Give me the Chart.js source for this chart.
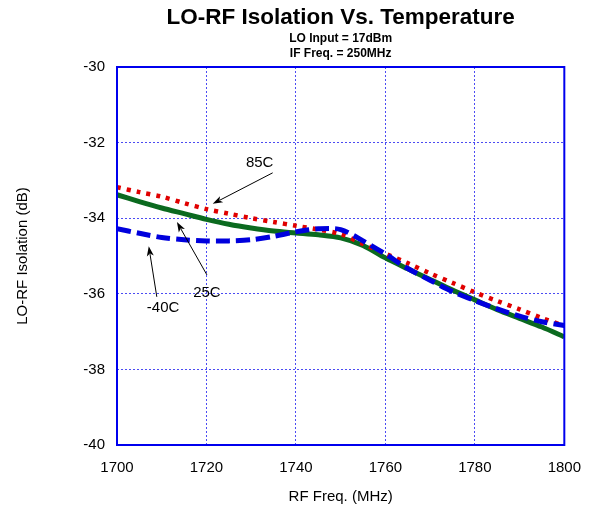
<!DOCTYPE html>
<html>
<head>
<meta charset="utf-8">
<script src="https://cdn.jsdelivr.net/npm/chart.js@4/dist/chart.umd.min.js"></script>
<style>
  html, body { margin: 0; padding: 0; background: #fff; }
  #box { width: 595px; height: 515px; }
</style>
</head>
<body>
<div id="box"><canvas id="iso-chart" width="595" height="515"></canvas></div>
<script>
// RF frequency points (MHz)
var freqs = [1700, 1705, 1710, 1715, 1720, 1725, 1730, 1735, 1740, 1745, 1750,
             1755, 1760, 1765, 1770, 1775, 1780, 1785, 1790, 1795, 1800];

// LO-RF isolation (dB) per temperature
var iso85C = [-33.18, -33.31, -33.43, -33.60, -33.76, -33.88, -34.00, -34.10, -34.20, -34.30, -34.42,
              -34.68, -34.94, -35.19, -35.46, -35.71, -35.96, -36.19, -36.41, -36.64, -36.85];
var iso25C = [-33.38, -33.56, -33.73, -33.88, -34.03, -34.16, -34.26, -34.34, -34.39, -34.44, -34.52,
              -34.72, -35.05, -35.34, -35.62, -35.90, -36.16, -36.42, -36.65, -36.88, -37.14];
var isoM40C = [-34.28, -34.40, -34.51, -34.57, -34.60, -34.60, -34.57, -34.48, -34.36, -34.28, -34.30,
               -34.60, -34.95, -35.33, -35.64, -35.94, -36.18, -36.40, -36.59, -36.74, -36.84];

var xTicks = [1700, 1720, 1740, 1760, 1780, 1800];
var yTicks = [-40, -38, -36, -34, -32, -30];

var titleText = 'LO-RF Isolation Vs. Temperature';
var subTitles = ['LO Input = 17dBm', 'IF Freq. = 250MHz'];

// callouts: label position, arrow tail, arrow head (data coordinates)
var callouts = [
    { text: '85C', at: [1731.9, -32.54], from: [1734.8, -32.80], to: [1721.4, -33.62] },
    { text: '25C', at: [1720.1, -35.98], from: [1720.1, -35.50], to: [1713.4, -34.10] },
    { text: '-40C', at: [1710.3, -36.38], from: [1708.9, -36.08], to: [1707.1, -34.74] }
];

var fontFam = 'Arial, "Liberation Sans", sans-serif';

function pts(vals) {
    return freqs.map(function(f, i) { return { x: f, y: vals[i] }; });
}

var decor = {
    id: 'decor',
    beforeDraw: function(chart) {
        var c = chart.ctx;
        c.save();
        c.fillStyle = '#fff';
        c.fillRect(0, 0, chart.width, chart.height);
        c.restore();
    },
    afterDraw: function(chart) {
        var c = chart.ctx;
        var a = chart.chartArea;
        var xs = chart.scales.x, ys = chart.scales.y;
        c.save();
        // frame
        c.strokeStyle = '#0000ee';
        c.lineWidth = 2;
        c.setLineDash([]);
        c.strokeRect(a.left, a.top, a.right - a.left, a.bottom - a.top);

        // titles
        var cx = (a.left + a.right) / 2;
        c.fillStyle = '#000';
        c.textAlign = 'center';
        c.textBaseline = 'middle';
        c.font = 'bold 22.5px ' + fontFam;
        c.fillText(titleText, cx, 18);
        c.font = 'bold 12px ' + fontFam;
        c.fillText(subTitles[0], cx, 39);
        c.fillText(subTitles[1], cx, 54);

        // callouts
        c.font = '15px ' + fontFam;
        c.strokeStyle = '#000';
        c.lineWidth = 1;
        callouts.forEach(function(o) {
            c.fillText(o.text, xs.getPixelForValue(o.at[0]), ys.getPixelForValue(o.at[1]));
            var x1 = xs.getPixelForValue(o.from[0]), y1 = ys.getPixelForValue(o.from[1]);
            var x2 = xs.getPixelForValue(o.to[0]), y2 = ys.getPixelForValue(o.to[1]);
            var ang = Math.atan2(y2 - y1, x2 - x1);
            var hl = 10, hw = 3.5;
            c.beginPath();
            c.moveTo(x1, y1);
            c.lineTo(x2 - Math.cos(ang) * hl * 0.8, y2 - Math.sin(ang) * hl * 0.8);
            c.stroke();
            c.beginPath();
            c.moveTo(x2, y2);
            c.lineTo(x2 - Math.cos(ang) * hl - Math.sin(ang) * hw, y2 - Math.sin(ang) * hl + Math.cos(ang) * hw);
            c.lineTo(x2 - Math.cos(ang) * hl * 0.75, y2 - Math.sin(ang) * hl * 0.75);
            c.lineTo(x2 - Math.cos(ang) * hl + Math.sin(ang) * hw, y2 - Math.sin(ang) * hl - Math.cos(ang) * hw);
            c.closePath();
            c.fillStyle = '#000';
            c.fill();
        });
        c.restore();
    }
};

var ctx = document.getElementById('iso-chart').getContext('2d');
var isoChart = new Chart(ctx, {
    type: 'line',
    data: {
        datasets: [
            {
                label: '-40C',
                data: pts(isoM40C),
                borderColor: '#0000dd',
                borderWidth: 5,
                borderDash: [14, 6],
                pointRadius: 0,
                tension: 0.3
            },
            {
                label: '85C',
                data: pts(iso85C),
                borderColor: '#e00000',
                borderWidth: 4.5,
                borderDash: [4, 6],
                pointRadius: 0,
                tension: 0.3
            },
            {
                label: '25C',
                data: pts(iso25C),
                borderColor: '#0b6a1f',
                borderWidth: 5,
                pointRadius: 0,
                tension: 0.3
            }
        ]
    },
    options: {
        responsive: false,
        animation: false,
        events: [],
        layout: { padding: { left: 0, right: 30, top: 67, bottom: 0 } },
        plugins: {
            legend: { display: false },
            title: { display: false },
            tooltip: { enabled: false }
        },
        scales: {
            x: {
                type: 'linear',
                min: 1700,
                max: 1800,
                afterFit: function(s) { s.height = 70; },
                afterBuildTicks: function(s) { s.ticks = xTicks.map(function(v) { return { value: v }; }); },
                grid: { color: 'rgba(30,30,240,0.8)', lineWidth: 1, drawTicks: false },
                border: { display: false, dash: [2, 2] },
                ticks: {
                    color: '#000',
                    padding: 14,
                    font: { family: fontFam, size: 15 },
                    callback: function(v) { return String(v); }
                },
                title: {
                    display: true,
                    text: 'RF Freq. (MHz)',
                    color: '#000',
                    font: { family: fontFam, size: 15 },
                    padding: { top: 0, bottom: 9 }
                }
            },
            y: {
                min: -40,
                max: -30,
                afterFit: function(s) { s.width = 117; },
                afterBuildTicks: function(s) { s.ticks = yTicks.map(function(v) { return { value: v }; }); },
                grid: { color: 'rgba(30,30,240,0.8)', lineWidth: 1, drawTicks: false },
                border: { display: false, dash: [2, 2] },
                ticks: {
                    color: '#000',
                    padding: 12,
                    font: { family: fontFam, size: 15 },
                    callback: function(v) { return String(v); }
                },
                title: {
                    display: true,
                    text: 'LO-RF Isolation (dB)',
                    color: '#000',
                    font: { family: fontFam, size: 15 },
                    padding: { top: 14, bottom: 0 }
                }
            }
        }
    },
    plugins: [decor]
});
</script>
</body>
</html>
